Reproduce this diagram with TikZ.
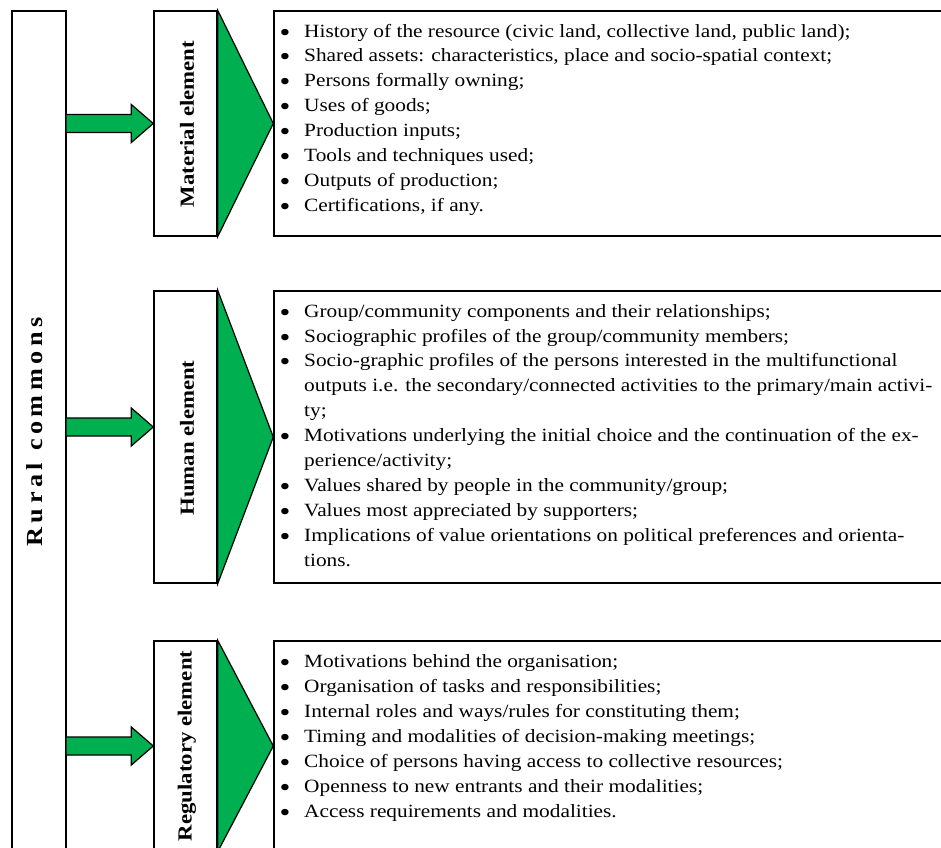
\documentclass[tikz,border=0pt]{standalone}
\usepackage{fontspec}
\setmainfont{Liberation Serif}[FakeStretch=1.14]
\usetikzlibrary{calc}
\definecolor{grn}{HTML}{00B050}
\tikzset{
  box/.style={draw=black,line width=1.4pt,fill=white,inner sep=0pt},
  grnshape/.style={draw=black,line width=1.2pt,fill=grn,line join=miter},
  lbl/.style={rotate=90,font=\fontsize{20}{22}\selectfont\bfseries,inner sep=0pt},
  txt/.style={anchor=base west,inner sep=0pt,font=\fontsize{18.7}{22}\selectfont},
  bul/.style={anchor=base,inner sep=0pt,font=\fontsize{27}{30}\selectfont},
}
\newcommand\bline[3]{\node[bul] (b#1) at (285,#2+9.5) {\smash{•}};\node[txt] (l#1) at (304,#2+5) {#3};}
\newcommand\contline[3]{\node[txt] (l#1) at (304,#2+5) {#3};}
\begin{document}
\begin{tikzpicture}[x=1pt,y=-1pt]
\useasboundingbox (0,0) rectangle (941,847);
\clip (0,0) rectangle (941,847);
% main box
\node[box,minimum width=54pt,minimum height=840pt] (rc) at (39,431) {};
\node[rotate=90,inner sep=0pt,font=\fontsize{23}{26}\selectfont\bfseries] (rct) at (35,432) {R\kern4.5pt u\kern4.5pt r\kern4.5pt a\kern4.5pt l\kern12pt c\kern4.5pt o\kern4.5pt m\kern4.5pt m\kern4.5pt o\kern4.5pt n\kern4.5pt s};
% element boxes
\node[box,minimum width=63pt,minimum height=225pt] (mb) at (185.5,123.5) {};
\node[box,minimum width=63pt,minimum height=292pt] (hb) at (185.5,437) {};
\node[box,minimum width=63pt,minimum height=210pt] (rb) at (185.5,746) {};
\node[lbl] (mt) at (187,124) {Material element};
\node[lbl] (ht) at (187,438) {Human element};
\node[lbl] (rt) at (187,746) {Regulatory element};
% text boxes
\node[box,minimum width=726pt,minimum height=225pt] (mx) at (637,123.5) {};
\node[box,minimum width=726pt,minimum height=292pt] (hx) at (637,437) {};
\node[box,minimum width=726pt,minimum height=210pt] (rx) at (637,746) {};
% triangles
\draw[grnshape] (mb.north east) -- (mx.west) -- (mb.south east) -- cycle;
\draw[grnshape] (hb.north east) -- (hx.west) -- (hb.south east) -- cycle;
\draw[grnshape] (rb.north east) -- (rx.west) -- (rb.south east) -- cycle;
% block arrows
\coordinate (a1) at (mb.west);
\coordinate (a2) at ($(hb.west)+(0,-10)$);
\coordinate (a3) at (rb.west);
\foreach \a in {a1,a2,a3}{
  \draw[grnshape] (rc.east |- {$(\a)+(0,-9)$}) -- ($(\a)+(-22,-9)$) -- ($(\a)+(-22,-19)$) -- (\a) -- ($(\a)+(-22,19)$) -- ($(\a)+(-22,9)$) -- (rc.east |- {$(\a)+(0,9)$});
}
% texts box 1
\bline{1}{32}{History of the resource (civic land, collective land, public land);}
\bline{2}{56}{Shared assets: characteristics, place and socio-spatial context;}
\bline{3}{81}{Persons formally owning;}
\bline{4}{106}{Uses of goods;}
\bline{5}{131}{Production inputs;}
\bline{6}{156}{Tools and techniques used;}
\bline{7}{181}{Outputs of production;}
\bline{8}{206}{Certifications, if any.}
% box 2
\bline{9}{312}{Group/community components and their relationships;}
\bline{10}{337}{Sociographic profiles of the group/community members;}
\bline{11}{361}{Socio-graphic profiles of the persons interested in the multifunctional}
\contline{12}{386}{outputs i.e. the secondary/connected activities to the primary/main activi-}
\contline{13}{411}{ty;}
\bline{14}{436}{Motivations underlying the initial choice and the continuation of the ex-}
\contline{15}{461}{perience/activity;}
\bline{16}{486}{Values shared by people in the community/group;}
\bline{17}{511}{Values most appreciated by supporters;}
\bline{18}{536}{Implications of value orientations on political preferences and orienta-}
\contline{19}{561}{tions.}
% box 3
\bline{20}{662}{Motivations behind the organisation;}
\bline{21}{687}{Organisation of tasks and responsibilities;}
\bline{22}{712}{Internal roles and ways/rules for constituting them;}
\bline{23}{737}{Timing and modalities of decision-making meetings;}
\bline{24}{762}{Choice of persons having access to collective resources;}
\bline{25}{787}{Openness to new entrants and their modalities;}
\bline{26}{812}{Access requirements and modalities.}
\end{tikzpicture}
\end{document}
